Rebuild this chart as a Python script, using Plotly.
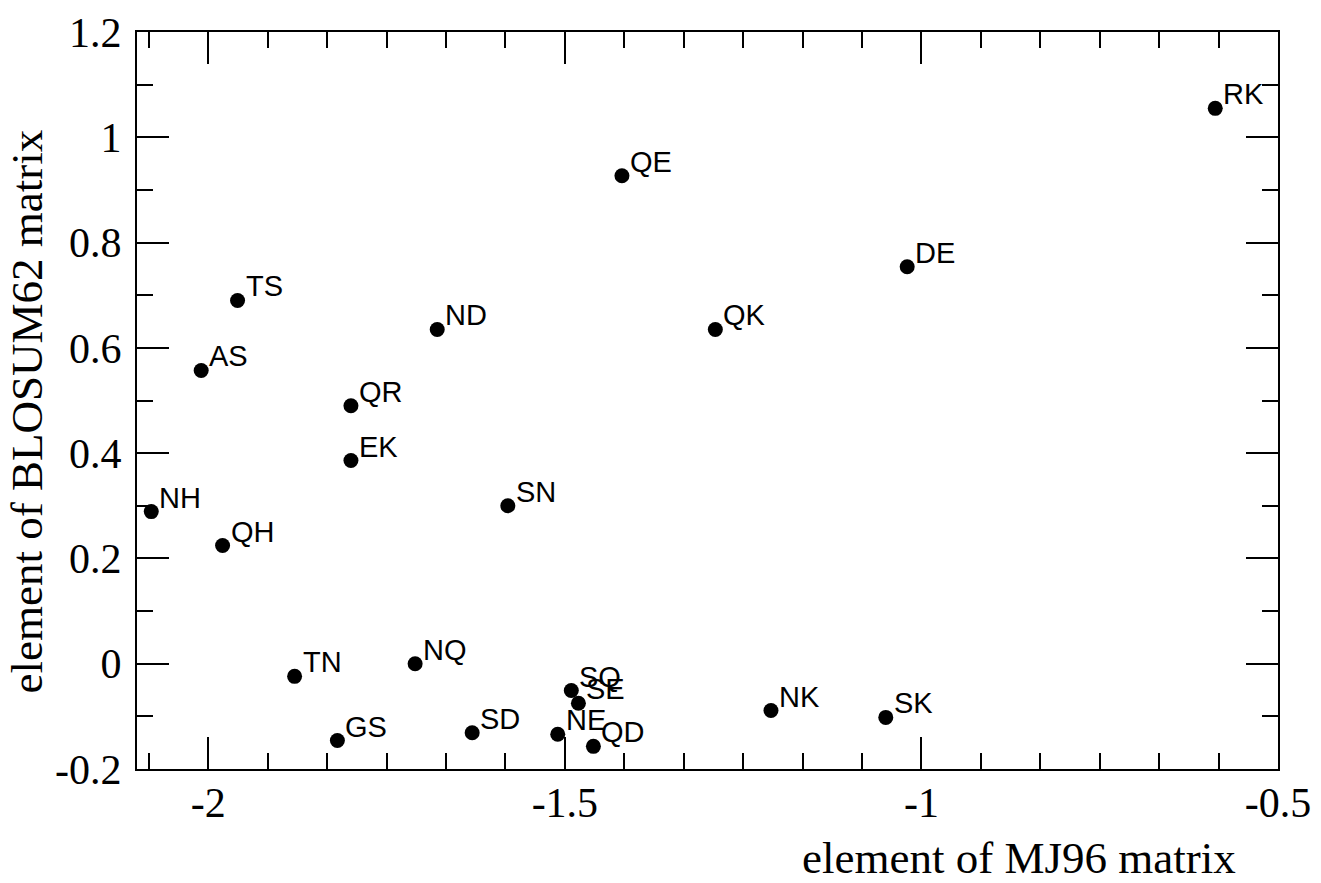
import plotly.graph_objects as go

# Data
pairs = ["RK", "QE", "DE", "TS", "ND", "QK", "AS", "QR", "EK", "SN", "NH", "QH",
         "TN", "NQ", "SQ", "SE", "NK", "SK", "GS", "SD", "NE", "QD"]
mj96 = [-0.588, -1.420, -1.020, -1.959, -1.679, -1.289, -2.010, -1.800, -1.800, -1.580, -2.080, -1.980,
        -1.879, -1.710, -1.491, -1.481, -1.211, -1.050, -1.819, -1.630, -1.510, -1.460]
blosum62 = [1.055, 0.927, 0.754, 0.690, 0.635, 0.635, 0.557, 0.490, 0.386, 0.300, 0.289, 0.2245,
            -0.024, 0.000, -0.051, -0.075, -0.089, -0.102, -0.146, -0.131, -0.134, -0.157]

x_tickvals = [-2, -1.5, -1, -0.5]
x_ticktext = ["-2", "-1.5", "-1", "-0.5"]
y_tickvals = [-0.2, 0, 0.2, 0.4, 0.6, 0.8, 1.0, 1.2]
y_ticktext = ["-0.2", "0", "0.2", "0.4", "0.6", "0.8", "1", "1.2"]

x_title = "element of MJ96 matrix"
y_title = "element of BLOSUM62 matrix"

SERIF = "Liberation Serif"
SANS = "Liberation Sans"

fig = go.Figure()
fig.add_trace(go.Scatter(
    x=mj96, y=blosum62, mode="markers",
    marker=dict(color="black", size=15, line=dict(width=0)),
    hoverinfo="skip", showlegend=False,
))

annotations = []
for name, xv, yv in zip(pairs, mj96, blosum62):
    annotations.append(dict(
        x=xv, y=yv, xref="x", yref="y", text=name, showarrow=False,
        xanchor="left", yanchor="middle", xshift=6, yshift=14,
        font=dict(family=SANS, size=29, color="black"),
    ))

annotations.append(dict(
    x=0.7728, y=-0.1205, xref="paper", yref="paper", text=x_title, showarrow=False,
    xanchor="center", yanchor="middle",
    font=dict(family=SERIF, size=45, color="black"),
))
annotations.append(dict(
    x=-0.0961, y=0.4856, xref="paper", yref="paper", text=y_title, showarrow=False,
    xanchor="center", yanchor="middle", textangle=-90,
    font=dict(family=SERIF, size=45, color="black"),
))

axis_common = dict(
    showgrid=False, zeroline=False, showline=True, linecolor="black", linewidth=2,
    ticks="inside", ticklen=32, tickwidth=2, tickcolor="black", mirror="ticks",
    tickfont=dict(family=SERIF, size=42, color="black"),
)

fig.update_layout(
    width=1321, height=883,
    margin=dict(l=137, r=43, t=32, b=114, autoexpand=False),
    paper_bgcolor="white", plot_bgcolor="white",
    xaxis=dict(
        range=[-2.1, -0.5], tickmode="array", tickvals=x_tickvals, ticktext=x_ticktext,
        ticklabelstandoff=-4,
        minor=dict(tick0=-2, dtick=0.5 / 6, ticks="inside", ticklen=16, tickwidth=2, tickcolor="black"),
        **axis_common,
    ),
    yaxis=dict(
        range=[-0.2, 1.2], tickmode="array", tickvals=y_tickvals, ticktext=y_ticktext,
        ticklabelstandoff=5,
        minor=dict(tick0=0, dtick=0.1, ticks="inside", ticklen=16, tickwidth=2, tickcolor="black"),
        **axis_common,
    ),
    annotations=annotations,
)

fig.write_html("out.html")
